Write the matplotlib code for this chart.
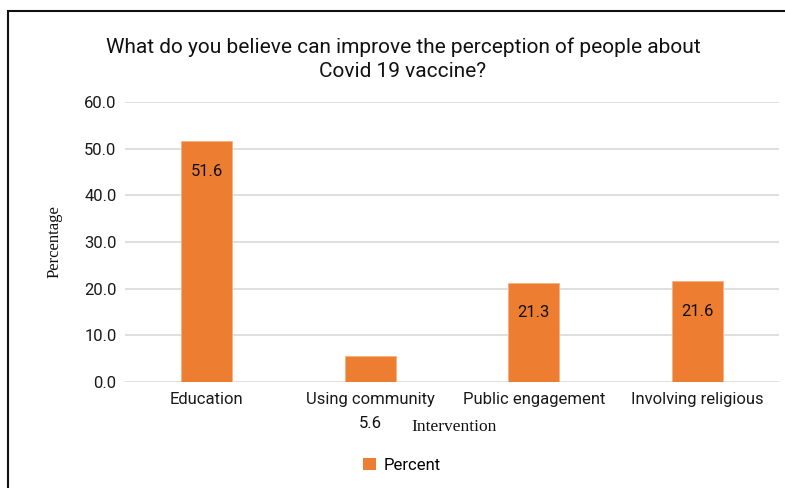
import matplotlib
matplotlib.use("Agg")
import matplotlib.pyplot as plt
from matplotlib.patches import Rectangle, Patch

categories = ["Education", "Using community", "Public engagement", "Involving religious"]
percent = [51.6, 5.6, 21.3, 21.6]
yticks = [0, 10, 20, 30, 40, 50, 60]

W, H = 785, 488
fig = plt.figure(figsize=(W / 100, H / 100), dpi=100)
sans = ["Roboto", "DejaVu Sans"]
serif = ["Liberation Serif", "DejaVu Serif"]

# plot area in pixel terms
left, right, bottom, top = 125, 779, 382, 102
ax = fig.add_axes([left / W, 1 - bottom / H, (right - left) / W, (bottom - top) / H])

x = range(len(categories))
ax.bar(x, percent, width=0.31, color="#ED7D31", edgecolor="#F4B183", linewidth=0.6, zorder=3)

ax.set_xlim(-0.5, len(categories) - 0.5)
ax.set_ylim(0, 60)
ax.set_yticks(yticks)
ax.set_yticklabels([f"{v:.1f}" for v in yticks], fontfamily=sans, fontsize=12, color="#1a1a1a")
ax.set_xticks(list(x))
ax.set_xticklabels(categories, fontfamily=sans, fontsize=12, color="#1a1a1a")
ax.tick_params(axis="both", length=0, pad=6)
ax.tick_params(axis="x", pad=7)
ax.grid(axis="y", color="#d9d9d9", linewidth=1.2, zorder=0)
for s in ax.spines.values():
    s.set_visible(False)

# value labels: inside the taller bars, below the axis for the short one
for i, v in enumerate(percent):
    if v > 10:
        ax.annotate(f"{v:.1f}", (i, v), xytext=(0, -30), textcoords="offset pixels",
                    ha="center", va="center", fontfamily=sans, fontsize=12, color="#111111", zorder=4)
    else:
        ax.annotate(f"{v:.1f}", (i, 0), xytext=(0, -41), textcoords="offset pixels",
                    ha="center", va="center", fontfamily=sans, fontsize=12, color="#111111")

fig.text(403 / W, 1 - 59 / H,
         "What do you believe can improve the perception of people about\nCovid 19 vaccine?",
         ha="center", va="center", fontfamily=sans, fontsize=15, color="#111111", linespacing=1.35)

fig.text(55 / W, 1 - 242 / H, "Percentage", rotation=90, ha="center", va="center",
         fontfamily=serif, fontsize=12, color="#111111")
fig.text(454 / W, 1 - 427 / H, "Intervention", ha="center", va="center",
         fontfamily=serif, fontsize=12.5, color="#111111")

fig.legend(handles=[Patch(facecolor="#ED7D31", label="Percent")], loc="center",
           bbox_to_anchor=(402 / W, 1 - 465 / H), frameon=False, handlelength=0.75, handleheight=0.75,
           handletextpad=0.5, prop={"family": sans, "size": 12})

fig.patches.append(Rectangle((8 / W, -0.1), 1.2, 1 - 11 / H + 0.1, transform=fig.transFigure,
                             fill=False, edgecolor="#111111", linewidth=1.5))

fig.savefig("out.png", dpi=100)
